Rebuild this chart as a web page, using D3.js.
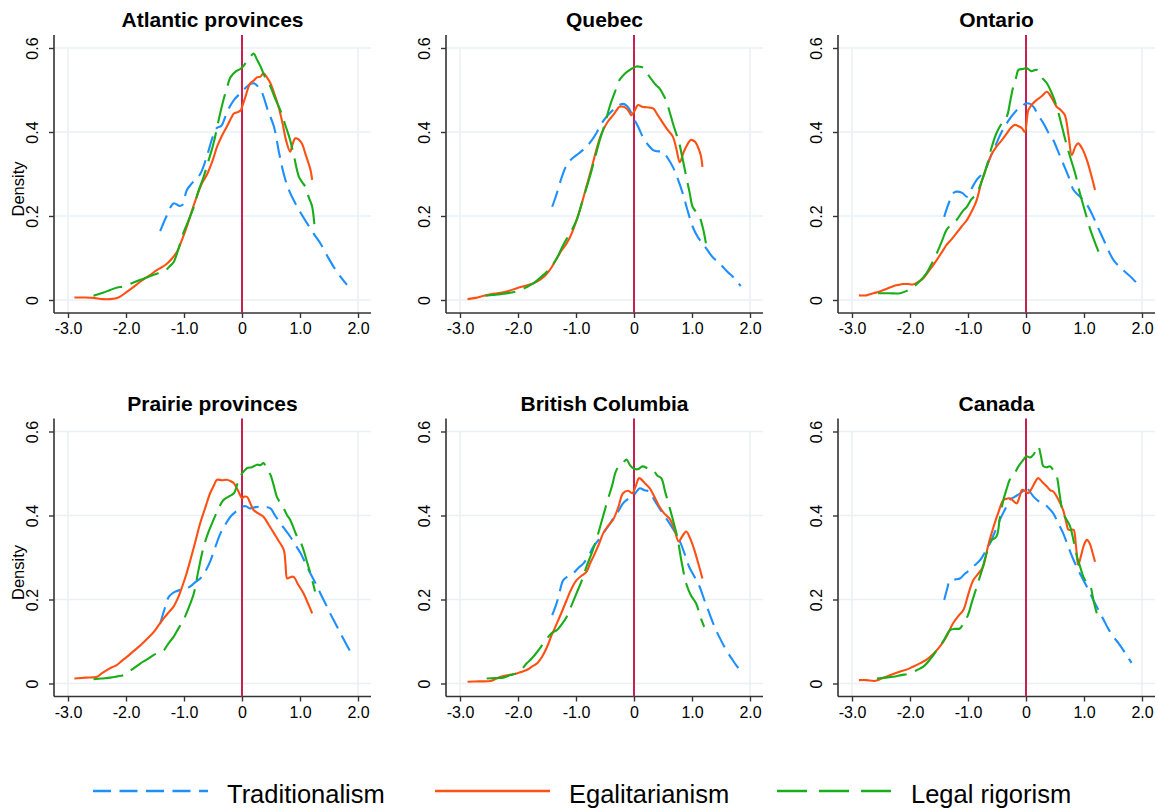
<!DOCTYPE html>
<html>
<head>
<meta charset="utf-8">
<script src="https://cdn.jsdelivr.net/npm/d3@7"></script>
<style>
  html, body { margin: 0; padding: 0; background: #fff; }
  svg text { font-family: "Liberation Sans", Arial, Helvetica, sans-serif; fill: #000; }
</style>
</head>
<body>
<svg id="chart" width="1158" height="809"></svg>
<script>
// Panel titles, in drawing order (left to right, top to bottom)
const regions = ["Atlantic provinces", "Quebec", "Ontario", "Prairie provinces", "British Columbia", "Canada"];
const seriesNames = ["Traditionalism", "Egalitarianism", "Legal rigorism"];
const xTicks = [-3, -2, -1, 0, 1, 2];
const xTickLabels = ["-3.0", "-2.0", "-1.0", "0", "1.0", "2.0"];
const yTicks = [0, 0.2, 0.4, 0.6];
const yTickLabels = ["0", "0.2", "0.4", "0.6"];

// Kernel density estimates: [score, density]
const tradAtlantic = [[-1.41,.164],[-1.3,.2],[-1.18,.23],[-1.08,.224],[-1.03,.226],[-0.95,.262],[-0.85,.28],[-0.72,.30],[-0.6,.345],[-0.5,.39],[-0.43,.41],[-0.36,.414],[-0.25,.45],[-0.14,.476],[0,.496],[0.1,.51],[0.2,.516],[0.32,.5],[0.45,.45],[0.55,.413],[0.64,.35],[0.72,.30],[0.8,.265],[0.89,.238],[1.0,.21],[1.12,.183],[1.25,.155],[1.35,.135],[1.47,.105],[1.58,.079],[1.7,.055],[1.81,.036]];
const egalAtlantic = [[-2.89,.006],[-2.7,.006],[-2.56,.005],[-2.4,.002],[-2.27,.002],[-2.13,.006],[-1.98,.02],[-1.85,.033],[-1.75,.044],[-1.6,.058],[-1.47,.071],[-1.38,.078],[-1.29,.087],[-1.2,.1],[-1.12,.115],[-1.03,.145],[-0.95,.175],[-0.87,.21],[-0.78,.246],[-0.7,.275],[-0.6,.30],[-0.5,.335],[-0.43,.365],[-0.35,.39],[-0.26,.413],[-0.18,.435],[-0.14,.444],[-0.06,.448],[-0.02,.452],[0,.46],[0.06,.484],[0.14,.516],[0.2,.522],[0.26,.53],[0.32,.532],[0.37,.54],[0.43,.53],[0.49,.516],[0.56,.49],[0.63,.46],[0.7,.42],[0.76,.38],[0.83,.353],[0.87,.37],[0.92,.385],[0.97,.383],[1.03,.373],[1.1,.345],[1.18,.31],[1.21,.286]];
const legalAtlantic = [[-2.56,.01],[-2.4,.017],[-2.27,.024],[-2.15,.03],[-2.04,.032],[-1.9,.04],[-1.75,.048],[-1.62,.055],[-1.52,.06],[-1.4,.066],[-1.32,.07],[-1.25,.08],[-1.18,.09],[-1.1,.12],[-1.01,.16],[-0.92,.19],[-0.83,.222],[-0.75,.26],[-0.66,.294],[-0.57,.335],[-0.49,.373],[-0.4,.43],[-0.32,.476],[-0.25,.51],[-0.2,.53],[-0.1,.545],[-0.03,.55],[0.03,.558],[0.09,.571],[0.15,.58],[0.2,.587],[0.26,.572],[0.32,.556],[0.4,.53],[0.49,.508],[0.57,.48],[0.66,.452],[0.75,.415],[0.83,.381],[0.9,.34],[0.98,.294],[1.04,.28],[1.09,.27],[1.15,.245],[1.21,.222],[1.26,.159]];

const tradQuebec = [[-1.41,.222],[-1.34,.25],[-1.27,.282],[-1.2,.31],[-1.16,.321],[-1.08,.335],[-0.99,.345],[-0.9,.355],[-0.82,.365],[-0.73,.38],[-0.65,.397],[-0.56,.42],[-0.47,.437],[-0.38,.45],[-0.3,.46],[-0.19,.467],[-0.12,.462],[-0.07,.452],[0.01,.429],[0.08,.41],[0.15,.389],[0.24,.37],[0.33,.357],[0.4,.354],[0.5,.353],[0.58,.338],[0.67,.317],[0.75,.29],[0.84,.254],[0.92,.215],[1.01,.175],[1.1,.15],[1.18,.135],[1.27,.118],[1.35,.103],[1.45,.09],[1.53,.079],[1.62,.066],[1.7,.056],[1.77,.045],[1.84,.033]];
const egalQuebec = [[-2.87,.002],[-2.73,.005],[-2.59,.01],[-2.45,.014],[-2.3,.017],[-2.15,.022],[-2.02,.028],[-1.87,.034],[-1.73,.04],[-1.6,.05],[-1.5,.063],[-1.42,.078],[-1.33,.099],[-1.25,.118],[-1.16,.135],[-1.07,.16],[-0.99,.19],[-0.9,.23],[-0.82,.27],[-0.73,.315],[-0.65,.357],[-0.59,.385],[-0.53,.405],[-0.45,.425],[-0.36,.44],[-0.3,.452],[-0.25,.46],[-0.18,.46],[-0.13,.456],[-0.08,.447],[-0.05,.44],[0.0,.448],[0.07,.464],[0.14,.46],[0.21,.459],[0.27,.458],[0.33,.456],[0.41,.44],[0.5,.421],[0.58,.405],[0.67,.389],[0.73,.36],[0.79,.328],[0.85,.35],[0.9,.365],[0.98,.381],[1.05,.377],[1.1,.365],[1.15,.345],[1.18,.317]];
const legalQuebec = [[-2.56,.01],[-2.43,.012],[-2.3,.014],[-2.15,.017],[-1.99,.022],[-1.86,.03],[-1.73,.04],[-1.6,.055],[-1.45,.075],[-1.33,.1],[-1.22,.131],[-1.1,.16],[-0.99,.19],[-0.88,.24],[-0.76,.294],[-0.67,.34],[-0.59,.381],[-0.5,.42],[-0.42,.46],[-0.33,.495],[-0.25,.524],[-0.15,.54],[-0.07,.548],[0.04,.556],[0.11,.555],[0.18,.552],[0.25,.535],[0.33,.52],[0.39,.51],[0.44,.504],[0.5,.49],[0.55,.476],[0.61,.45],[0.67,.421],[0.73,.395],[0.78,.373],[0.84,.335],[0.9,.294],[0.96,.255],[1.01,.222],[1.07,.21],[1.13,.198],[1.19,.17],[1.24,.135]];

const tradOntario = [[-1.41,.198],[-1.36,.22],[-1.31,.238],[-1.25,.255],[-1.2,.258],[-1.1,.255],[-1.02,.246],[-0.94,.265],[-0.85,.286],[-0.76,.3],[-0.68,.317],[-0.6,.345],[-0.51,.373],[-0.42,.4],[-0.33,.421],[-0.25,.437],[-0.16,.452],[-0.08,.46],[0,.468],[0.07,.467],[0.13,.46],[0.21,.44],[0.3,.421],[0.38,.4],[0.47,.381],[0.55,.355],[0.64,.325],[0.73,.295],[0.82,.262],[0.9,.25],[0.99,.238],[1.08,.22],[1.16,.198],[1.25,.17],[1.34,.143],[1.42,.118],[1.51,.095],[1.62,.078],[1.74,.063],[1.83,.052],[1.91,.04]];
const egalOntario = [[-2.88,.011],[-2.75,.011],[-2.63,.016],[-2.52,.02],[-2.4,.027],[-2.29,.033],[-2.2,.036],[-2.12,.038],[-2.03,.038],[-1.95,.037],[-1.86,.043],[-1.77,.052],[-1.66,.072],[-1.54,.095],[-1.45,.114],[-1.37,.131],[-1.28,.145],[-1.2,.159],[-1.11,.175],[-1.02,.19],[-0.94,.21],[-0.85,.238],[-0.77,.28],[-0.68,.317],[-0.6,.345],[-0.51,.365],[-0.42,.38],[-0.33,.397],[-0.26,.41],[-0.19,.417],[-0.12,.413],[-0.07,.409],[-0.02,.40],[0.04,.452],[0.1,.465],[0.18,.476],[0.27,.485],[0.36,.496],[0.44,.482],[0.53,.46],[0.6,.452],[0.67,.44],[0.73,.395],[0.79,.345],[0.85,.365],[0.9,.373],[0.97,.36],[1.05,.333],[1.12,.3],[1.19,.262]];
const legalOntario = [[-2.55,.016],[-2.36,.016],[-2.17,.016],[-2.05,.022],[-1.95,.03],[-1.83,.045],[-1.72,.063],[-1.63,.085],[-1.54,.111],[-1.45,.14],[-1.37,.167],[-1.28,.18],[-1.2,.19],[-1.1,.21],[-1.02,.222],[-0.94,.24],[-0.85,.254],[-0.77,.28],[-0.68,.317],[-0.6,.36],[-0.51,.397],[-0.42,.42],[-0.33,.437],[-0.27,.475],[-0.22,.508],[-0.17,.53],[-0.13,.548],[-0.05,.55],[0.01,.552],[0.09,.545],[0.18,.548],[0.27,.53],[0.36,.516],[0.42,.5],[0.47,.484],[0.55,.45],[0.62,.413],[0.69,.375],[0.76,.341],[0.85,.3],[0.93,.254],[1.02,.21],[1.11,.167],[1.18,.14],[1.25,.115]];

const tradPrairie = [[-1.41,.143],[-1.34,.175],[-1.26,.207],[-1.16,.218],[-1.06,.223],[-0.97,.226],[-0.89,.231],[-0.8,.242],[-0.72,.25],[-0.64,.265],[-0.55,.29],[-0.46,.325],[-0.37,.358],[-0.28,.38],[-0.2,.397],[-0.1,.41],[0,.421],[0.07,.422],[0.14,.417],[0.23,.42],[0.32,.421],[0.4,.42],[0.49,.417],[0.57,.4],[0.66,.382],[0.75,.365],[0.83,.35],[0.92,.33],[1.01,.31],[1.1,.285],[1.18,.262],[1.27,.238],[1.35,.215],[1.44,.19],[1.52,.167],[1.61,.143],[1.7,.119],[1.8,.093],[1.9,.068]];
const egalPrairie = [[-2.89,.012],[-2.7,.014],[-2.5,.016],[-2.42,.024],[-2.33,.032],[-2.25,.038],[-2.16,.044],[-2.07,.054],[-1.98,.064],[-1.87,.077],[-1.75,.091],[-1.63,.107],[-1.52,.123],[-1.43,.14],[-1.35,.155],[-1.26,.17],[-1.18,.183],[-1.1,.205],[-1.03,.231],[-0.96,.26],[-0.89,.294],[-0.8,.34],[-0.72,.382],[-0.63,.42],[-0.55,.453],[-0.49,.47],[-0.43,.485],[-0.35,.484],[-0.26,.485],[-0.2,.482],[-0.14,.477],[-0.1,.468],[-0.06,.457],[0,.441],[0.04,.445],[0.09,.444],[0.14,.43],[0.2,.413],[0.28,.405],[0.37,.397],[0.46,.378],[0.55,.358],[0.63,.34],[0.72,.318],[0.75,.285],[0.78,.25],[0.83,.253],[0.89,.254],[0.97,.235],[1.06,.215],[1.14,.19],[1.21,.167]];
const legalPrairie = [[-2.56,.01],[-2.42,.012],[-2.27,.014],[-2.15,.017],[-2.04,.02],[-1.9,.033],[-1.75,.048],[-1.63,.058],[-1.52,.068],[-1.43,.074],[-1.35,.079],[-1.27,.095],[-1.18,.111],[-1.1,.13],[-1.01,.151],[-0.92,.18],[-0.83,.215],[-0.75,.27],[-0.66,.326],[-0.58,.36],[-0.49,.39],[-0.41,.415],[-0.32,.437],[-0.23,.445],[-0.14,.453],[-0.08,.475],[-0.03,.493],[0.03,.505],[0.09,.513],[0.17,.515],[0.26,.521],[0.32,.52],[0.37,.525],[0.43,.51],[0.49,.497],[0.55,.47],[0.6,.445],[0.66,.43],[0.72,.417],[0.78,.4],[0.83,.39],[0.89,.37],[0.95,.35],[1.0,.34],[1.06,.318],[1.12,.29],[1.18,.262],[1.26,.219]];

const tradBC = [[-1.41,.163],[-1.35,.185],[-1.3,.207],[-1.22,.246],[-1.14,.255],[-1.05,.262],[-0.96,.275],[-0.87,.286],[-0.78,.305],[-0.7,.326],[-0.61,.342],[-0.53,.358],[-0.44,.375],[-0.36,.393],[-0.27,.41],[-0.19,.429],[-0.1,.44],[0,.449],[0.05,.458],[0.1,.465],[0.18,.46],[0.27,.457],[0.35,.437],[0.44,.417],[0.52,.4],[0.61,.382],[0.7,.362],[0.78,.342],[0.87,.31],[0.95,.278],[1.04,.255],[1.13,.231],[1.21,.2],[1.3,.167],[1.38,.138],[1.47,.111],[1.58,.082],[1.7,.056],[1.78,.04],[1.87,.024]];
const egalBC = [[-2.87,.004],[-2.67,.005],[-2.47,.006],[-2.38,.011],[-2.3,.016],[-2.16,.02],[-2.02,.024],[-1.93,.028],[-1.85,.032],[-1.76,.04],[-1.67,.048],[-1.58,.065],[-1.5,.087],[-1.42,.115],[-1.33,.143],[-1.24,.172],[-1.16,.199],[-1.08,.225],[-0.99,.246],[-0.9,.257],[-0.82,.266],[-0.76,.285],[-0.7,.302],[-0.61,.33],[-0.53,.358],[-0.45,.375],[-0.36,.39],[-0.27,.42],[-0.19,.453],[-0.1,.459],[-0.03,.453],[0.03,.47],[0.09,.489],[0.18,.478],[0.27,.465],[0.35,.445],[0.44,.421],[0.52,.405],[0.61,.393],[0.69,.37],[0.77,.338],[0.83,.35],[0.9,.362],[0.97,.345],[1.04,.318],[1.11,.285],[1.18,.25]];
const legalBC = [[-2.54,.012],[-2.4,.013],[-2.25,.014],[-2.13,.02],[-2.02,.025],[-1.93,.035],[-1.85,.048],[-1.76,.06],[-1.67,.075],[-1.58,.092],[-1.5,.107],[-1.42,.12],[-1.33,.127],[-1.25,.14],[-1.16,.159],[-1.08,.185],[-0.99,.215],[-0.9,.245],[-0.82,.278],[-0.73,.31],[-0.65,.342],[-0.56,.385],[-0.47,.429],[-0.38,.47],[-0.3,.509],[-0.21,.522],[-0.13,.533],[-0.07,.52],[-0.02,.513],[0.06,.51],[0.15,.517],[0.24,.512],[0.33,.509],[0.4,.495],[0.47,.489],[0.54,.455],[0.61,.421],[0.68,.385],[0.75,.346],[0.82,.29],[0.9,.238],[0.98,.21],[1.07,.191],[1.14,.16],[1.21,.135]];

const tradCanada = [[-1.41,.199],[-1.36,.225],[-1.31,.246],[-1.22,.248],[-1.14,.25],[-1.05,.262],[-0.97,.27],[-0.88,.282],[-0.79,.294],[-0.71,.312],[-0.62,.334],[-0.54,.36],[-0.45,.39],[-0.36,.415],[-0.28,.437],[-0.19,.445],[-0.1,.453],[-0.04,.46],[0,.469],[0.06,.458],[0.13,.445],[0.21,.435],[0.3,.429],[0.39,.418],[0.47,.405],[0.56,.38],[0.64,.358],[0.73,.325],[0.82,.294],[0.9,.27],[0.99,.246],[1.08,.222],[1.16,.199],[1.25,.175],[1.34,.151],[1.42,.13],[1.51,.111],[1.6,.095],[1.68,.079],[1.75,.064],[1.82,.049]];
const egalCanada = [[-2.88,.008],[-2.75,.008],[-2.61,.006],[-2.5,.011],[-2.41,.016],[-2.3,.022],[-2.18,.028],[-2.06,.033],[-1.95,.04],[-1.83,.048],[-1.72,.056],[-1.6,.07],[-1.49,.087],[-1.37,.112],[-1.26,.143],[-1.17,.16],[-1.08,.175],[-1.0,.21],[-0.91,.246],[-0.82,.262],[-0.74,.278],[-0.65,.33],[-0.56,.373],[-0.47,.41],[-0.39,.437],[-0.33,.44],[-0.28,.441],[-0.22,.435],[-0.16,.429],[-0.11,.445],[-0.07,.461],[-0.01,.458],[0.04,.453],[0.1,.465],[0.16,.48],[0.21,.489],[0.28,.48],[0.36,.469],[0.42,.46],[0.47,.457],[0.55,.44],[0.64,.413],[0.7,.38],[0.73,.366],[0.78,.366],[0.82,.366],[0.86,.33],[0.9,.282],[0.95,.305],[1.0,.33],[1.05,.342],[1.1,.333],[1.15,.31],[1.19,.29]];
const legalCanada = [[-2.57,.012],[-2.43,.014],[-2.29,.016],[-2.15,.02],[-2.0,.024],[-1.88,.032],[-1.77,.04],[-1.65,.058],[-1.54,.079],[-1.42,.102],[-1.31,.127],[-1.22,.13],[-1.14,.131],[-1.07,.145],[-1.0,.163],[-0.93,.195],[-0.85,.23],[-0.76,.27],[-0.68,.31],[-0.6,.34],[-0.51,.35],[-0.45,.395],[-0.39,.437],[-0.33,.465],[-0.28,.485],[-0.2,.5],[-0.13,.517],[-0.06,.53],[0.01,.541],[0.07,.538],[0.13,.545],[0.17,.555],[0.21,.565],[0.26,.54],[0.3,.517],[0.36,.515],[0.41,.517],[0.47,.508],[0.53,.493],[0.58,.45],[0.64,.405],[0.7,.39],[0.76,.374],[0.82,.34],[0.88,.302],[0.94,.275],[0.99,.254],[1.05,.24],[1.11,.231],[1.16,.2],[1.22,.167]];

const traditionalism = [tradAtlantic, tradQuebec, tradOntario, tradPrairie, tradBC, tradCanada];
const egalitarianism = [egalAtlantic, egalQuebec, egalOntario, egalPrairie, egalBC, egalCanada];
const legalRigorism = [legalAtlantic, legalQuebec, legalOntario, legalPrairie, legalBC, legalCanada];

// Visual styling for the three series
const seriesStyle = [
  { color: "#1e8fff", dash: "17,8", keyDash: "18,8.5" },
  { color: "#ff5014", dash: null, keyDash: null },
  { color: "#1aad1a", dash: "30,9", keyDash: "30,12" }
];
const refLineColor = "#c9214f";
const gridColor = "#e9f1f4";
const axisColor = "#333";

const svg = d3.select("#chart");

const panelW = 392, rowH = 383.5;
const line = d3.line().x(d => d[0]).y(d => d[1]).curve(d3.curveCatmullRom.alpha(0.5));

regions.forEach((name, i) => {
  const col = i % 3, row = Math.floor(i / 3);
  const ox = col * panelW, oy = row * rowH;
  const x = d3.scaleLinear().domain([-3, 2]).range([68 + ox, 358 + ox]);
  const y = d3.scaleLinear().domain([0, 0.6]).range([300 + oy, 48 + oy]);
  const axisLeft = 54 + ox, axisRight = 371 + ox;
  const axisTop = 35 + oy, axisBottom = 313 + oy;
  const g = svg.append("g");

  // gridlines
  g.selectAll(".hgrid").data(yTicks).join("line")
    .attr("x1", axisLeft).attr("x2", axisRight)
    .attr("y1", d => y(d)).attr("y2", d => y(d))
    .attr("stroke", gridColor).attr("stroke-width", 1.6);
  g.selectAll(".vgrid").data([xTicks[0], xTicks[xTicks.length - 1]]).join("line")
    .attr("x1", d => x(d)).attr("x2", d => x(d))
    .attr("y1", y(0.6)).attr("y2", axisBottom)
    .attr("stroke", gridColor).attr("stroke-width", 1.6);

  // axes
  const yAxis = d3.axisLeft(y).tickValues(yTicks).tickSize(5).tickPadding(4)
    .tickFormat((d, k) => yTickLabels[k]);
  const yg = g.append("g").attr("transform", `translate(${axisLeft},0)`).call(yAxis);
  yg.select(".domain").attr("d", `M0,${axisTop}V${axisBottom}`);
  yg.selectAll(".tick text")
    .attr("transform", "rotate(-90)")
    .attr("x", 0).attr("y", -16).attr("dy", 0)
    .attr("text-anchor", "middle")
    .style("font-size", "16px");

  const xAxis = d3.axisBottom(x).tickValues(xTicks).tickSize(5).tickPadding(5)
    .tickFormat((d, k) => xTickLabels[k]);
  const xg = g.append("g").attr("transform", `translate(0,${axisBottom})`).call(xAxis);
  xg.select(".domain").attr("d", `M${axisLeft},0H${axisRight}`);
  xg.selectAll(".tick text").style("font-size", "16px");

  [yg, xg].forEach(a => {
    a.attr("font-family", null).attr("font-size", null);
    a.select(".domain").attr("stroke", axisColor).attr("stroke-width", 1.6);
    a.selectAll(".tick line").attr("stroke", axisColor).attr("stroke-width", 1.4);
  });

  // reference line at zero
  g.append("line")
    .attr("x1", x(0)).attr("x2", x(0))
    .attr("y1", axisTop).attr("y2", axisBottom)
    .attr("stroke", refLineColor).attr("stroke-width", 2);

  // density curves
  [traditionalism[i], egalitarianism[i], legalRigorism[i]].forEach((pts, s) => {
    g.append("path")
      .attr("d", line(pts.map(p => [x(p[0]), y(p[1])])))
      .attr("fill", "none")
      .attr("stroke", seriesStyle[s].color)
      .attr("stroke-width", 2.1)
      .attr("stroke-dasharray", seriesStyle[s].dash);
  });

  // title
  g.append("text")
    .attr("x", (axisLeft + axisRight) / 2).attr("y", 27 + oy)
    .attr("text-anchor", "middle")
    .style("font-size", "21px").style("font-weight", "bold")
    .text(name);

  if (col === 0) {
    g.append("text")
      .attr("transform", `translate(24,${189 + oy}) rotate(-90)`)
      .attr("text-anchor", "middle")
      .style("font-size", "16.5px")
      .text("Density");
  }
});

// legend
const legendX = [93, 435, 777];
const legend = svg.append("g");
seriesNames.forEach((n, s) => {
  legend.append("line")
    .attr("x1", legendX[s]).attr("x2", legendX[s] + 115)
    .attr("y1", 791).attr("y2", 791)
    .attr("stroke", seriesStyle[s].color).attr("stroke-width", 2.4)
    .attr("stroke-dasharray", seriesStyle[s].keyDash);
  legend.append("text")
    .attr("x", legendX[s] + 134).attr("y", 803)
    .style("font-size", "25.5px")
    .text(n);
});
</script>
</body>
</html>
